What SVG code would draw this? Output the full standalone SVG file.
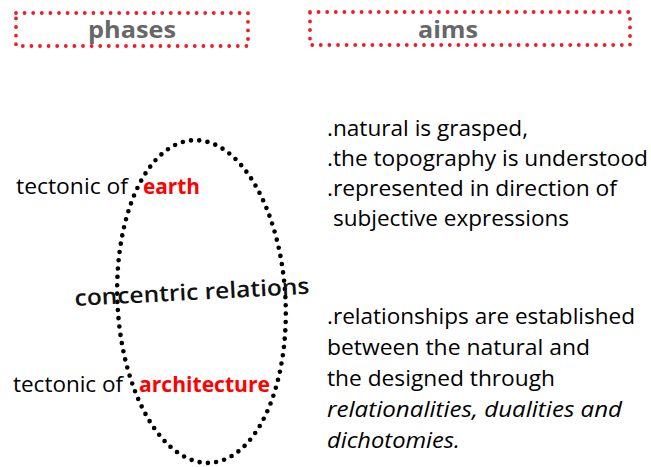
<svg xmlns="http://www.w3.org/2000/svg" width="651" height="467" viewBox="0 0 651 467">
  <style>
    .hbox { fill: none; stroke: #f21b24; stroke-width: 3.8; stroke-linecap: round; stroke-dasharray: 0 8.6; }
    .htxt { font-family: "Open Sans", "Liberation Sans", sans-serif; font-weight: bold; font-size: 24px; fill: #676767; text-anchor: middle; }
    .txt { font-family: "Open Sans", "Liberation Sans", sans-serif; font-size: 21.5px; fill: #000; }
    .red { font-family: "Open Sans", "Liberation Sans", sans-serif; font-size: 21.5px; font-weight: bold; fill: #ff0000; }
    .it { font-style: italic; }
    .ring { fill: none; stroke: #000; stroke-width: 4.6; stroke-linecap: round; stroke-dasharray: 0 1; }
    .conc { font-family: "Open Sans", "Liberation Sans", sans-serif; font-size: 22.5px; font-weight: 600; fill: #111; }
  </style>

  <g id="header-phases">
    <rect class="hbox" x="16" y="13" width="232" height="33"/>
    <text class="htxt" x="132" y="38" textLength="88" lengthAdjust="spacingAndGlyphs">phases</text>
  </g>
  <g id="header-aims">
    <rect class="hbox" x="310" y="12" width="320" height="33"/>
    <text class="htxt" x="448" y="38" textLength="60" lengthAdjust="spacingAndGlyphs">aims</text>
  </g>

  <g id="concentric-ring">
    <ellipse class="ring" cx="201.5" cy="301.5" rx="84" ry="161.5" pathLength="95" transform="rotate(-3 201.5 301.5)"/>
  </g>

  <g id="phase-earth">
    <text class="txt" x="16" y="194" textLength="112" lengthAdjust="spacingAndGlyphs">tectonic of</text>
    <text class="red" x="143" y="194" textLength="57" lengthAdjust="spacingAndGlyphs">earth</text>
  </g>

  <g id="phase-architecture">
    <text class="txt" x="13" y="392" textLength="110" lengthAdjust="spacingAndGlyphs">tectonic of</text>
    <text class="red" x="139" y="392" textLength="131" lengthAdjust="spacingAndGlyphs">architecture</text>
  </g>

  <g id="concentric-relations">
    <text class="conc" x="75" y="306" textLength="235" lengthAdjust="spacingAndGlyphs" transform="rotate(-3 75 306)">concentric relations</text>
  </g>

  <g id="aims-earth">
    <text class="txt" x="327" y="136" textLength="201" lengthAdjust="spacingAndGlyphs">.natural is grasped,</text>
    <text class="txt" x="327" y="166" textLength="321" lengthAdjust="spacingAndGlyphs">.the topography is understood</text>
    <text class="txt" x="327" y="196" textLength="290" lengthAdjust="spacingAndGlyphs">.represented in direction of</text>
    <text class="txt" x="333" y="226" textLength="236" lengthAdjust="spacingAndGlyphs">subjective expressions</text>
  </g>

  <g id="aims-architecture">
    <text class="txt" x="327" y="324" textLength="308" lengthAdjust="spacingAndGlyphs">.relationships are established</text>
    <text class="txt" x="327" y="355" textLength="263" lengthAdjust="spacingAndGlyphs">between the natural and</text>
    <text class="txt" x="327" y="386" textLength="228" lengthAdjust="spacingAndGlyphs">the designed through</text>
    <text class="txt it" x="327" y="417" textLength="295" lengthAdjust="spacingAndGlyphs">relationalities, dualities and</text>
    <text class="txt it" x="327" y="448" textLength="133" lengthAdjust="spacingAndGlyphs">dichotomies.</text>
  </g>
</svg>
